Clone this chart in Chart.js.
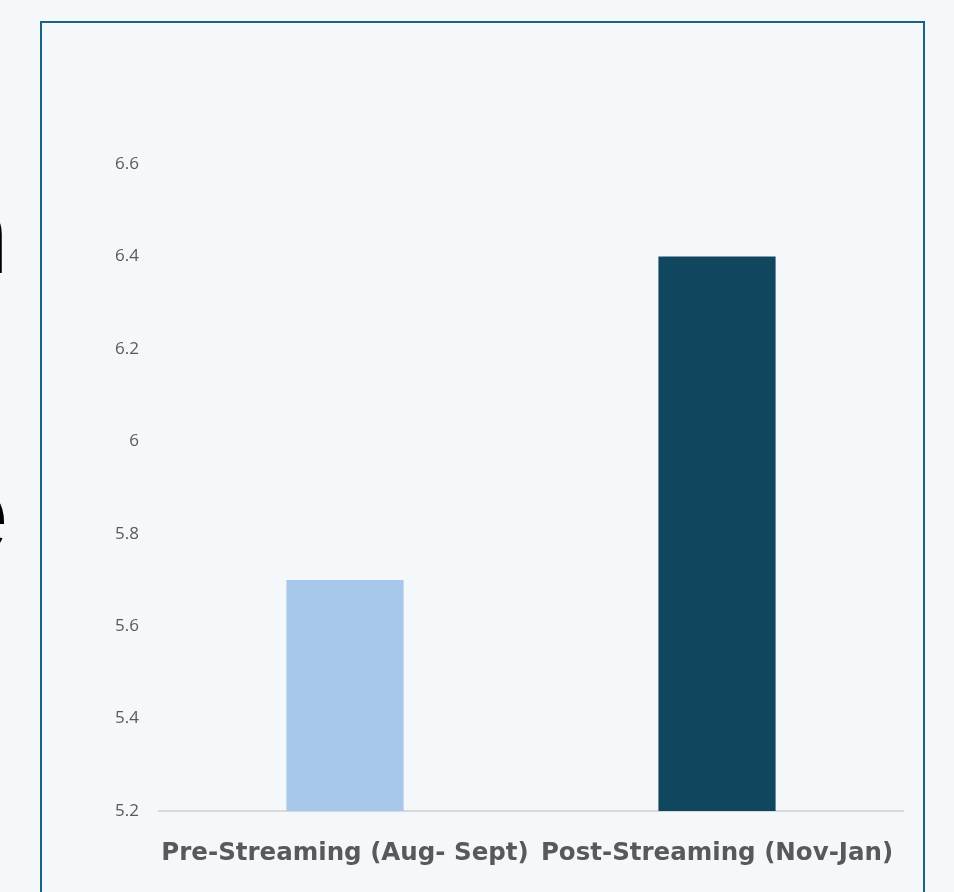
<!DOCTYPE html>
<html>
<head>
<meta charset="utf-8">
<script src="https://cdn.jsdelivr.net/npm/chart.js@4"></script>
<style>
  html, body { margin: 0; padding: 0; }
  body { width: 954px; height: 892px; background: #f4f8fa; position: relative; overflow: hidden; }
  #frame { position: absolute; left: 40px; top: 21px; width: 881px; height: 900px; border: 2px solid #1b6184; }
  .cut { position: absolute; left: -300px; width: 309px; text-align: right; font-family: "Liberation Sans", Arial, sans-serif; font-size: 110px; line-height: 110px; color: #000; }
  #cv { position: absolute; left: 0; top: 0; }
</style>
</head>
<body>
<div class="cut" style="top:180px">n</div>
<div class="cut" style="top:458px">e</div>
<div id="frame"></div>
<canvas id="cv" width="954" height="892"></canvas>
<script>
// values
const categories = ["Pre-Streaming (Aug- Sept)", "Post-Streaming (Nov-Jan)"];
const avgValues = [5.7, 6.4];
const barColors = ["#a7c8ea", "#10465e"];

const yMin = 5.2;
const yMax = 6.6;
const yStep = 0.2;

new Chart(document.getElementById("cv"), {
  type: "bar",
  data: {
    labels: categories,
    datasets: [{
      data: avgValues,
      backgroundColor: barColors,
      borderWidth: 0,
      barPercentage: 0.63,
      categoryPercentage: 0.5
    }]
  },
  options: {
    responsive: false,
    animation: false,
    layout: { padding: { top: 164, right: 51, left: 0, bottom: 0 } },
    plugins: { legend: { display: false }, tooltip: { enabled: false } },
    scales: {
      x: {
        grid: { display: false, drawTicks: false },
        border: { display: true, color: "#d9d9d9", width: 2 },
        ticks: {
          color: "#595959",
          padding: 28,
          maxRotation: 0,
          autoSkip: false,
          font: { family: "DejaVu Sans", size: 24.5, weight: "bold" }
        },
        afterFit: (s) => { s.height = 81; }
      },
      y: {
        min: yMin,
        max: yMax,
        grid: { display: false, drawTicks: false },
        border: { display: false },
        ticks: {
          stepSize: yStep,
          color: "#595959",
          padding: 20,
          font: { family: "Open Sans", size: 17 },
          callback: (v) => Number(v.toFixed(1)).toString()
        },
        afterFit: (s) => { s.width = 159; }
      }
    }
  }
});
</script>
</body>
</html>
